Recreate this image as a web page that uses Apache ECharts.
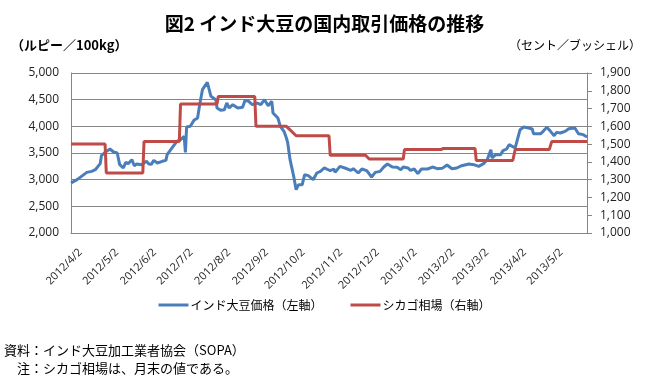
<!DOCTYPE html>
<html>
<head>
<meta charset="utf-8">
<script src="https://cdn.jsdelivr.net/npm/echarts@6/dist/echarts.min.js"></script>
<style>html,body{margin:0;padding:0;background:#fff;}#c{width:649px;height:384px;}</style>
</head>
<body>
<div id="c"></div>
<script>
// ---- data ----
const startDate = [2012, 4, 2];
const endDate = [2013, 5, 31];

const blueDates = ["2012/4/2","2012/4/7","2012/4/15","2012/4/19","2012/4/22","2012/4/26","2012/4/27","2012/4/30",
"2012/5/4","2012/5/7","2012/5/10","2012/5/12","2012/5/15","2012/5/17","2012/5/19","2012/5/22","2012/5/24","2012/5/26","2012/5/30",
"2012/6/3","2012/6/5","2012/6/7","2012/6/9","2012/6/12","2012/6/16","2012/6/19","2012/6/20","2012/6/24","2012/6/28",
"2012/7/1","2012/7/4","2012/7/5","2012/7/6","2012/7/9","2012/7/12","2012/7/15","2012/7/16","2012/7/17","2012/7/19","2012/7/23","2012/7/26","2012/7/30","2012/7/31",
"2012/8/3","2012/8/6","2012/8/8","2012/8/10","2012/8/13","2012/8/17","2012/8/21","2012/8/23","2012/8/26","2012/8/29",
"2012/9/2","2012/9/5","2012/9/8","2012/9/11","2012/9/14","2012/9/15","2012/9/19","2012/9/21","2012/9/24","2012/9/26","2012/9/27","2012/9/29",
"2012/10/2","2012/10/4","2012/10/6","2012/10/9","2012/10/11","2012/10/14","2012/10/18","2012/10/21","2012/10/24","2012/10/27","2012/10/29",
"2012/11/1","2012/11/4","2012/11/5","2012/11/9","2012/11/13","2012/11/18","2012/11/20","2012/11/24","2012/11/27",
"2012/12/1","2012/12/5","2012/12/8","2012/12/12","2012/12/15","2012/12/18","2012/12/22","2012/12/26","2012/12/29","2012/12/31",
"2013/1/4","2013/1/6","2013/1/9","2013/1/12","2013/1/15","2013/1/20","2013/1/24","2013/1/28",
"2013/2/1","2013/2/5","2013/2/9","2013/2/13","2013/2/17","2013/2/23","2013/2/27",
"2013/3/3","2013/3/7","2013/3/10","2013/3/13","2013/3/14","2013/3/17","2013/3/21","2013/3/23","2013/3/26","2013/3/28",
"2013/4/2","2013/4/3","2013/4/6","2013/4/9","2013/4/13","2013/4/16","2013/4/17","2013/4/23","2013/4/25","2013/4/28",
"2013/5/1","2013/5/4","2013/5/6","2013/5/9","2013/5/13","2013/5/16","2013/5/21","2013/5/24","2013/5/28","2013/5/31"];

const blueValues = [2938,3000,3137,3156,3187,3300,3450,3512,
3575,3519,3500,3281,3219,3325,3300,3375,3262,3294,3281,
3344,3294,3287,3362,3312,3344,3362,3469,3594,3719,
3750,3812,3512,3987,4000,4112,4156,4300,4437,4687,4825,4562,4500,4344,
4300,4312,4437,4344,4406,4344,4356,4487,4469,4406,
4437,4406,4500,4387,4469,4250,4156,4000,3906,3781,3700,3375,
3062,2812,2906,2906,3094,3075,3000,3125,3156,3219,3200,
3170,3200,3137,3250,3219,3175,3206,3125,3200,
3169,3050,3137,3156,3237,3294,3237,3231,3187,3237,
3219,3175,3200,3112,3200,3200,3237,3206,
3212,3275,3206,3219,3262,3294,3281,
3250,3300,3375,3562,3406,3469,3469,3544,3575,3656,
3594,3625,3937,3987,3969,3950,3862,3862,3906,3981,
3906,3825,3887,3875,3906,3956,3969,3862,3844,3800];

const redDates = ["2012/4/2","2012/4/30","2012/5/1","2012/5/31","2012/6/1","2012/6/30","2012/7/1","2012/7/31",
"2012/8/1","2012/8/31","2012/9/1","2012/9/26","2012/10/4","2012/10/31","2012/11/1","2012/11/30",
"2012/12/3","2012/12/31","2013/1/1","2013/1/31","2013/2/2","2013/2/28","2013/3/1","2013/3/31",
"2013/4/2","2013/4/30","2013/5/2","2013/5/31"];
const redValues = [1500,1500,1338,1338,1515,1515,1726,1726,
1768,1768,1600,1600,1547,1547,1437,1437,
1416,1416,1469,1469,1476,1476,1408,1408,
1469,1469,1514,1514];

const leftAxis = {min: 2000, max: 5000, step: 500};
const rightAxis = {min: 1000, max: 1900, step: 100};

const titleText = "図2 インド大豆の国内取引価格の推移";
const leftUnit = "（ルピー／100kg）";
const rightUnit = "（セント／ブッシェル）";
const seriesNames = ["インド大豆価格（左軸）", "シカゴ相場（右軸）"];
const notes = ["資料：インド大豆加工業者協会（SOPA）", "　注：シカゴ相場は、月末の値である。"];

// ---- build categories (every day) ----
const days = [];
{
  let d = new Date(startDate[0], startDate[1]-1, startDate[2]);
  const e = new Date(endDate[0], endDate[1]-1, endDate[2]);
  while (d <= e) {
    days.push(d.getFullYear() + "/" + (d.getMonth()+1) + "/" + d.getDate());
    d = new Date(d.getFullYear(), d.getMonth(), d.getDate()+1);
  }
}
const pair = (ds, vs) => ds.map((d, i) => [d, vs[i]]);
const fmt = v => Number(v).toLocaleString('en-US');

const CJK = '"Noto Sans CJK JP", "Noto Sans", sans-serif';
const NUM = '"Open Sans", "Liberation Sans", sans-serif';
const grey = '#868686';

const chart = echarts.init(document.getElementById('c'), null, {renderer: 'canvas'});
chart.setOption({
  animation: false,
  backgroundColor: '#fff',
  grid: {left: 71, right: 62, top: 73, bottom: 151, containLabel: false},
  xAxis: {
    type: 'category', data: days, boundaryGap: false,
    axisLine: {show: true, lineStyle: {color: grey, width: 1}},
    axisTick: {show: false},
    splitLine: {show: false},
    axisLabel: {
      interval: (i, v) => v.split('/')[2] === '2',
      rotate: 45, margin: 8, fontSize: 11, color: '#222', fontFamily: NUM,
      verticalAlign: 'top', padding: [8, 0, 0, 0]
    }
  },
  yAxis: [
    {type: 'value', min: leftAxis.min, max: leftAxis.max, interval: leftAxis.step,
     axisLine: {show: true, lineStyle: {color: grey}},
     axisTick: {show: false},
     splitLine: {show: true, lineStyle: {color: grey, width: 1}},
     axisLabel: {formatter: fmt, fontSize: 12, color: '#222', fontFamily: NUM, margin: 12}},
    {type: 'value', min: rightAxis.min, max: rightAxis.max, interval: rightAxis.step,
     position: 'right',
     axisLine: {show: true, lineStyle: {color: grey}},
     axisTick: {show: true, inside: false, length: 5, lineStyle: {color: grey}},
     splitLine: {show: false},
     axisLabel: {formatter: fmt, fontSize: 12, color: '#222', fontFamily: NUM, margin: 13}}
  ],
  legend: {
    top: 294, left: 'center', itemGap: 28, itemWidth: 30, itemHeight: 3, icon: 'rect',
    textStyle: {fontSize: 12, fontFamily: CJK, color: '#000', padding: [0,0,0,-3]},
    data: seriesNames
  },
  series: [
    {name: seriesNames[0], type: 'line', yAxisIndex: 0, showSymbol: false, symbol: 'none',
     data: pair(blueDates, blueValues),
     lineStyle: {color: '#4A7EBB', width: 3}, itemStyle: {color: '#4A7EBB'}},
    {name: seriesNames[1], type: 'line', yAxisIndex: 1, showSymbol: false, symbol: 'none',
     data: pair(redDates, redValues),
     lineStyle: {color: '#BE4B48', width: 3}, itemStyle: {color: '#BE4B48'}}
  ],
  graphic: [
    {type: 'text', left: 'center', top: 14, style: {text: titleText, font: 'bold 19px ' + CJK, fill: '#000'}},
    {type: 'text', left: 11, top: 39, style: {text: leftUnit, font: 'bold 13px ' + CJK, fill: '#000'}},
    {type: 'text', right: 8, top: 39, style: {text: rightUnit, font: '12px ' + CJK, fill: '#000'}},
    {type: 'text', left: 4, top: 344, style: {text: notes[0], font: '13px ' + CJK, fill: '#000'}},
    {type: 'text', left: 4, top: 362, style: {text: notes[1], font: '13px ' + CJK, fill: '#000'}}
  ]
});
</script>
</body>
</html>
